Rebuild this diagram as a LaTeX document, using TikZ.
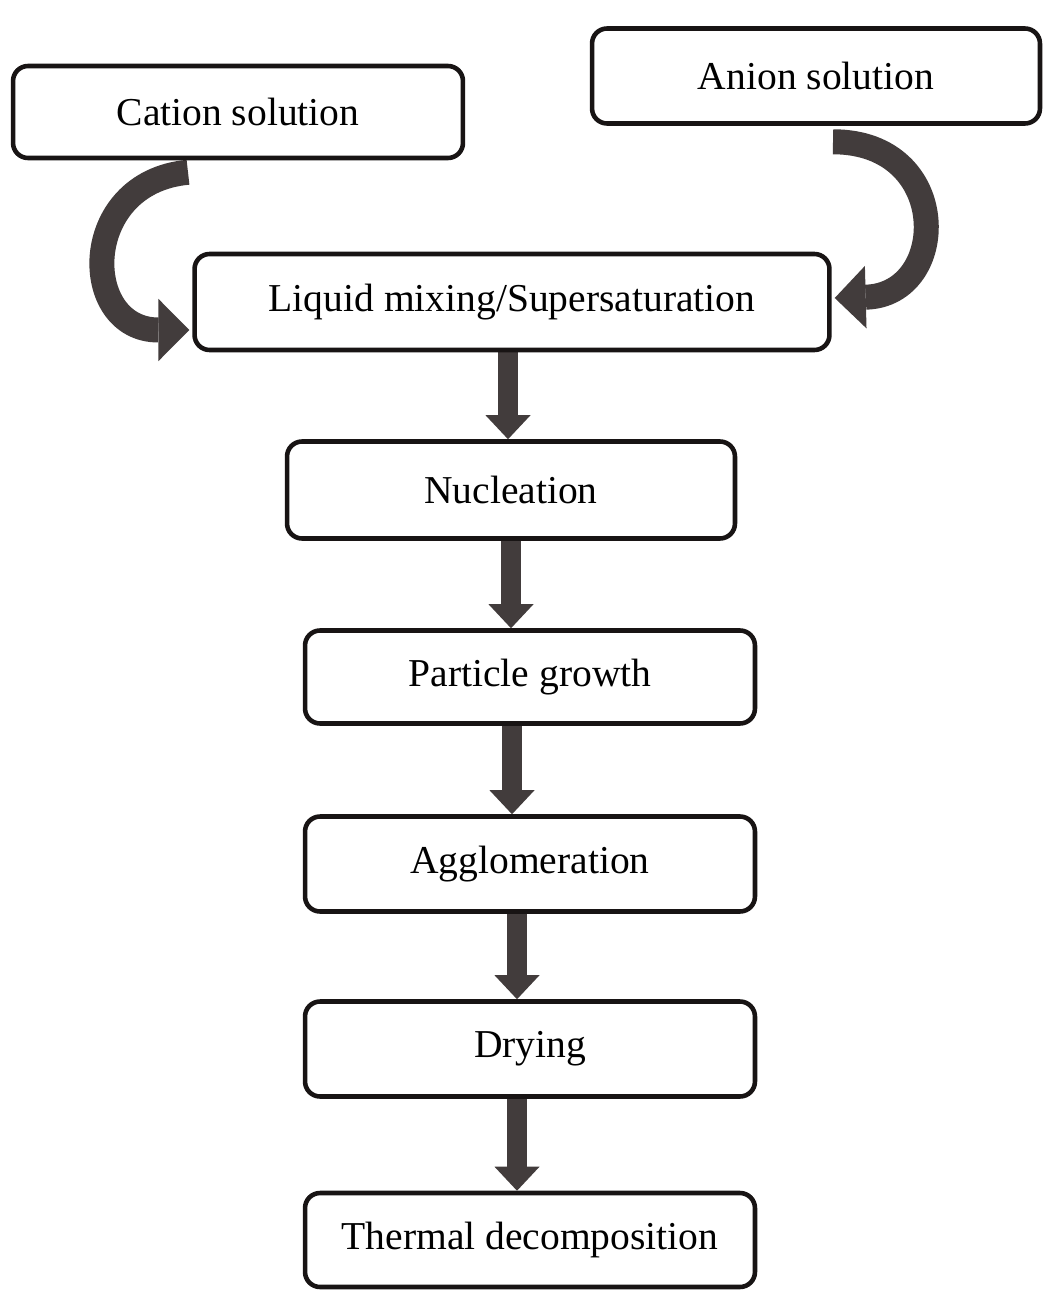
\documentclass[tikz,border=0pt]{standalone}
\usepackage{fontspec}
\setmainfont{Liberation Serif}
\usetikzlibrary{arrows.meta,calc}
\pgfdeclarelayer{background}
\pgfsetlayers{background,main}
\definecolor{boxline}{RGB}{24,20,20}
\definecolor{arrowfill}{RGB}{66,60,60}

\tikzset{
  box/.style={draw=boxline, line width=2.6pt, rounded corners=0.3cm, fill=white,
    inner sep=0pt, align=center, font=\fontsize{22.5}{27}\selectfont},
  flowarrow/.style={draw=arrowfill, line width=0.4cm,
    -{Triangle[width=0.9cm,length=0.48cm,line width=0pt]}},
  bendarrow/.style={draw=arrowfill, line width=0.5cm,
    -{Triangle[width=1.25cm,length=0.62cm,line width=0pt]}},
}

\begin{document}
\begin{tikzpicture}[x=0.02cm,y=-0.02cm]
\useasboundingbox (0,0) rectangle (1047,1290);

% process boxes
\node[box, minimum width=9cm,   minimum height=1.84cm] (cat) at (238,112)  {Cation solution};
\node[box, minimum width=8.96cm, minimum height=1.9cm] (an)  at (816,76)   {Anion solution};
\node[box, minimum width=12.7cm, minimum height=1.92cm] (liq) at (512,302) {Liquid mixing/Supersaturation};
\node[box, minimum width=8.96cm, minimum height=1.94cm] (nuc) at (511,490)  {Nucleation};
\node[box, minimum width=9cm,   minimum height=1.86cm] (pg)  at (530,677)  {Particle growth};
\node[box, minimum width=9cm,   minimum height=1.9cm]  (ag)  at (530,864)  {Agglomeration};
\node[box, minimum width=9cm,   minimum height=1.9cm]  (dr)  at (530,1049) {Drying};
\node[box, minimum width=9cm,   minimum height=1.88cm] (th)  at (530,1240) {Thermal decomposition};

% columns of the straight arrows
\coordinate (c1) at (508,0);
\coordinate (c2) at (511,0);
\coordinate (c3) at (512,0);
\coordinate (c4) at (517,0);
\coordinate (c5) at (517,0);

\begin{pgfonlayer}{background}
  \fill[white] (0,0) rectangle (1047,1290);
  % the two solutions feed the mixing step
  \draw[bendarrow] ($(cat.south)+(-50,12)$)
    .. controls +(-110,10) and +(-110,0) .. ($(liq.west)+(-3,28)$);
  \draw[bendarrow] ($(an.south)+(17,16)$)
    .. controls +(120,0) and +(115,-3) .. ($(liq.east)+(3,-4)$);
  % main sequence
  \draw[flowarrow] (liq.south -| c1) -- (nuc.north -| c1);
  \draw[flowarrow] (nuc.south -| c2) -- (pg.north -| c2);
  \draw[flowarrow] (pg.south -| c3)  -- (ag.north -| c3);
  \draw[flowarrow] (ag.south -| c4)  -- (dr.north -| c4);
  \draw[flowarrow] (dr.south -| c5)  -- (th.north -| c5);
\end{pgfonlayer}
\end{tikzpicture}
\end{document}
